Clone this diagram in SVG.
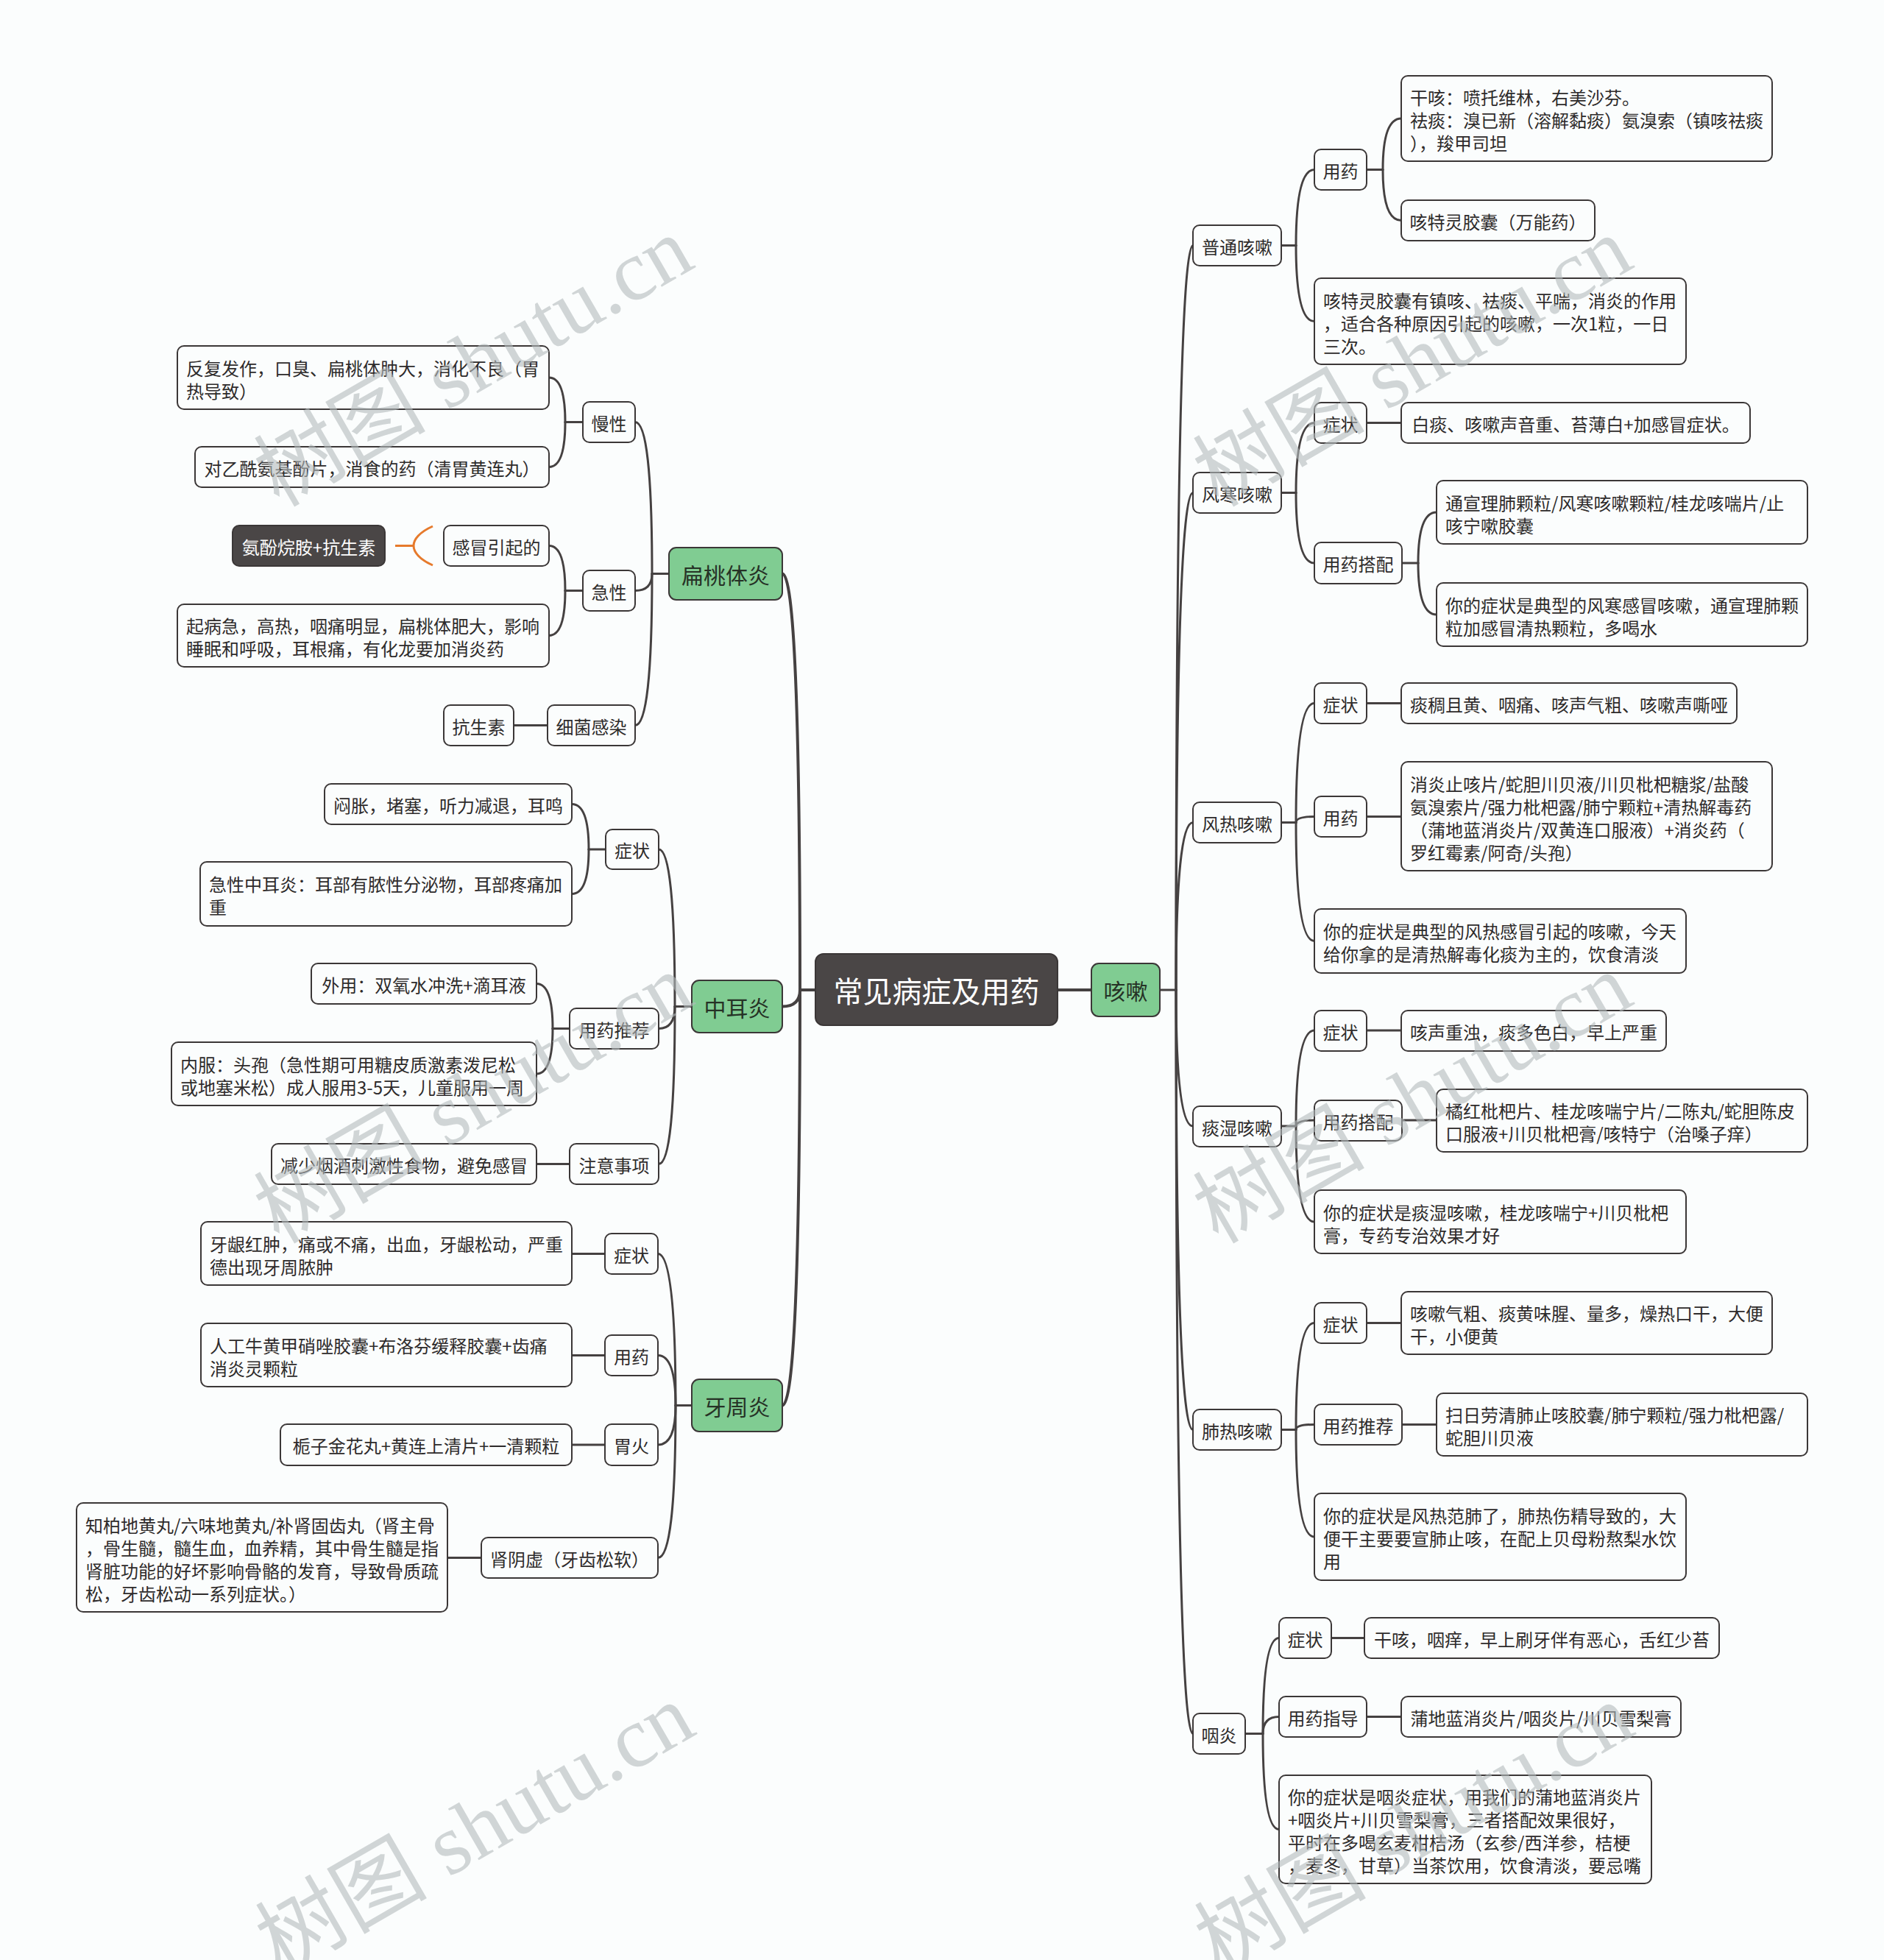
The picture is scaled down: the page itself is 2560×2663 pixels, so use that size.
<svg xmlns="http://www.w3.org/2000/svg" width="2560" height="2663" viewBox="0 0 2560 2663">
<style>
.bg{fill:#fbfdfd}
.n rect{fill:#fbfdfd;stroke:#3b3737;stroke-width:2}
.g rect{fill:#80cc92;stroke:#3b3737;stroke-width:2}
.r rect{fill:#4a4646;stroke:#3b3737;stroke-width:2}
text{font-family:"Noto Sans CJK SC","Noto Sans",sans-serif;font-size:24px;fill:#2e2b2b}
.m{text-anchor:middle;dominant-baseline:central}
.s{text-anchor:start;dominant-baseline:central}
.g text{font-size:30px;fill:#263226}
.r text{font-size:40px;fill:#ffffff}
.w text{fill:#ffffff}
.c path{fill:none;stroke:#454141;stroke-width:3;stroke-linecap:round}
.c .k{stroke-width:4}
.o path{fill:none;stroke:#e67a2c;stroke-width:3}
.wm text{font-family:"Liberation Serif","Noto Sans CJK SC",serif;font-size:117px;fill:#b4babd;fill-opacity:0.6}
</style>
<rect class="bg" x="0" y="0" width="2560" height="2663"/>

<g id="connectors" class="c">
<path class="k" d="M1437 1345 H1483"/>
<path class="k" d="M1108 1345 H1087"/>
<path class="k" d="M1087 1345 Q1087 779.5 1063 779.5"/>
<path class="k" d="M1087 1345 Q1087 1367.5 1063 1367.5"/>
<path class="k" d="M1087 1345 Q1087 1909.5 1063 1909.5"/>
<path d="M1576 1345 H1598"/>
<path d="M1598 1345 Q1598 333.5 1621 333.5"/>
<path d="M1598 1345 Q1598 669.5 1621 669.5"/>
<path d="M1598 1345 Q1598 1117.5 1621 1117.5"/>
<path d="M1598 1345 Q1598 1530 1621 1530"/>
<path d="M1598 1345 Q1598 1942.5 1621 1942.5"/>
<path d="M1598 1345 Q1598 2355.5 1621 2355.5"/>
<path d="M1741 333.5 H1761"/>
<path d="M1761 333.5 Q1761 230.5 1786 230.5"/>
<path d="M1761 333.5 Q1761 436.5 1786 436.5"/>
<path d="M1857 230.5 H1879"/>
<path d="M1879 230.5 Q1879 161 1904 161"/>
<path d="M1879 230.5 Q1879 299.5 1904 299.5"/>
<path d="M1741 669.5 H1761"/>
<path d="M1761 669.5 Q1761 574.5 1786 574.5"/>
<path d="M1761 669.5 Q1761 765 1786 765"/>
<path d="M1857 574.5 H1904"/>
<path d="M1905 765 H1927"/>
<path d="M1927 765 Q1927 696 1952 696"/>
<path d="M1927 765 Q1927 835 1952 835"/>
<path d="M1741 1117.5 H1761"/>
<path d="M1761 1117.5 Q1761 955.5 1786 955.5"/>
<path d="M1761 1117.5 Q1761 1109.5 1786 1109.5"/>
<path d="M1761 1117.5 Q1761 1278.5 1786 1278.5"/>
<path d="M1857 955.5 H1904"/>
<path d="M1857 1109.5 H1904"/>
<path d="M1741 1530 H1761"/>
<path d="M1761 1530 Q1761 1400 1786 1400"/>
<path d="M1761 1530 Q1761 1522 1786 1522"/>
<path d="M1761 1530 Q1761 1660 1786 1660"/>
<path d="M1857 1400 H1904"/>
<path d="M1905 1522 H1952"/>
<path d="M1741 1942.5 H1761"/>
<path d="M1761 1942.5 Q1761 1797.5 1786 1797.5"/>
<path d="M1761 1942.5 Q1761 1935.5 1786 1935.5"/>
<path d="M1761 1942.5 Q1761 2088 1786 2088"/>
<path d="M1857 1797.5 H1904"/>
<path d="M1905 1935.5 H1952"/>
<path d="M1692 2355.5 H1716"/>
<path d="M1716 2355.5 Q1716 2225.5 1738 2225.5"/>
<path d="M1716 2355.5 Q1716 2332.5 1738 2332.5"/>
<path d="M1716 2355.5 Q1716 2485.5 1738 2485.5"/>
<path d="M1809 2225.5 H1854"/>
<path d="M1857 2332.5 H1904"/>
<path d="M909 779.5 H886"/>
<path d="M886 779.5 Q886 573.5 863 573.5"/>
<path d="M886 779.5 Q886 802.5 863 802.5"/>
<path d="M886 779.5 Q886 985.5 863 985.5"/>
<path d="M792 573.5 H768"/>
<path d="M768 573.5 Q768 513 746 513"/>
<path d="M768 573.5 Q768 634.5 746 634.5"/>
<path d="M792 802.5 H768"/>
<path d="M768 802.5 Q768 741.5 746 741.5"/>
<path d="M768 802.5 Q768 863.5 746 863.5"/>
<path d="M744 985.5 H698"/>
<path d="M940 1367.5 H917"/>
<path d="M917 1367.5 Q917 1154 895 1154"/>
<path d="M917 1367.5 Q917 1397.5 895 1397.5"/>
<path d="M917 1367.5 Q917 1581.5 895 1581.5"/>
<path d="M823 1154 H800"/>
<path d="M800 1154 Q800 1092.5 777 1092.5"/>
<path d="M800 1154 Q800 1214.5 777 1214.5"/>
<path d="M774 1397.5 H751"/>
<path d="M751 1397.5 Q751 1336.5 729 1336.5"/>
<path d="M751 1397.5 Q751 1459 729 1459"/>
<path d="M774 1581.5 H729"/>
<path d="M940 1909.5 H918"/>
<path d="M918 1909.5 Q918 1703.5 894 1703.5"/>
<path d="M918 1909.5 Q918 1841.5 894 1841.5"/>
<path d="M918 1909.5 Q918 1963 894 1963"/>
<path d="M918 1909.5 Q918 2116.5 894 2116.5"/>
<path d="M822 1703.5 H777"/>
<path d="M822 1841.5 H777"/>
<path d="M822 1963 H777"/>
<path d="M654 2116.5 H608"/>
</g>
<g id="summary-bracket" class="o">
<path d="M537 741.5 H562"/>
<path d="M588 715 C570 723 562 733 562 741.5 C562 750 570 760 588 768"/>
</g>

<g id="root" class="r"><rect x="1108" y="1296" width="329" height="97" rx="11"/><text class="m" x="1272.5" y="1345">常见病症及用药</text></g>

<g id="kesou" class="g"><rect x="1483" y="1309" width="93" height="72" rx="10"/><text class="m" x="1529.5" y="1345">咳嗽</text></g>

<g id="putong" class="n"><rect x="1621" y="306" width="120" height="55" rx="9"/><text class="m" x="1681" y="334">普通咳嗽</text></g>
<g id="putong-yongyao" class="n"><rect x="1786" y="203" width="71" height="55" rx="9"/><text class="m" x="1821.5" y="231">用药</text></g>
<g id="putong-yao1" class="n"><rect x="1904" y="103" width="504" height="116" rx="9"/><text class="s"><tspan x="1916" y="131">干咳：喷托维林，右美沙芬。</tspan><tspan x="1916" y="162">祛痰：溴已新（溶解黏痰）氨溴索（镇咳祛痰</tspan><tspan x="1916" y="193">），羧甲司坦</tspan></text></g>
<g id="putong-yao2" class="n"><rect x="1904" y="272" width="263" height="55" rx="9"/><text class="m" x="2035.5" y="300">咳特灵胶囊（万能药）</text></g>
<g id="putong-note" class="n"><rect x="1786" y="378" width="505" height="117" rx="9"/><text class="s"><tspan x="1798" y="406.5">咳特灵胶囊有镇咳、祛痰、平喘，消炎的作用</tspan><tspan x="1798" y="437.5">，适合各种原因引起的咳嗽，一次1粒，一日</tspan><tspan x="1798" y="468.5">三次。</tspan></text></g>

<g id="fenghan" class="n"><rect x="1621" y="642" width="120" height="55" rx="9"/><text class="m" x="1681" y="670">风寒咳嗽</text></g>
<g id="fenghan-zz" class="n"><rect x="1786" y="547" width="71" height="55" rx="9"/><text class="m" x="1821.5" y="575">症状</text></g>
<g id="fenghan-zz-t" class="n"><rect x="1904" y="547" width="474" height="55" rx="9"/><text class="m" x="2141" y="575">白痰、咳嗽声音重、苔薄白+加感冒症状。</text></g>
<g id="fenghan-yy" class="n"><rect x="1786" y="737" width="119" height="56" rx="9"/><text class="m" x="1845.5" y="765.5">用药搭配</text></g>
<g id="fenghan-yy1" class="n"><rect x="1952" y="653" width="504" height="86" rx="9"/><text class="s"><tspan x="1964" y="681.5">通宣理肺颗粒/风寒咳嗽颗粒/桂龙咳喘片/止</tspan><tspan x="1964" y="712.5">咳宁嗽胶囊</tspan></text></g>
<g id="fenghan-yy2" class="n"><rect x="1952" y="792" width="504" height="86" rx="9"/><text class="s"><tspan x="1964" y="820.5">你的症状是典型的风寒感冒咳嗽，通宣理肺颗</tspan><tspan x="1964" y="851.5">粒加感冒清热颗粒，多喝水</tspan></text></g>

<g id="fengre" class="n"><rect x="1621" y="1090" width="120" height="55" rx="9"/><text class="m" x="1681" y="1118">风热咳嗽</text></g>
<g id="fengre-zz" class="n"><rect x="1786" y="928" width="71" height="55" rx="9"/><text class="m" x="1821.5" y="956">症状</text></g>
<g id="fengre-zz-t" class="n"><rect x="1904" y="928" width="456" height="55" rx="9"/><text class="m" x="2132" y="956">痰稠且黄、咽痛、咳声气粗、咳嗽声嘶哑</text></g>
<g id="fengre-yy" class="n"><rect x="1786" y="1082" width="71" height="55" rx="9"/><text class="m" x="1821.5" y="1110">用药</text></g>
<g id="fengre-yy-t" class="n"><rect x="1904" y="1035" width="504" height="148" rx="9"/><text class="s"><tspan x="1916" y="1063.5">消炎止咳片/蛇胆川贝液/川贝枇杷糖浆/盐酸</tspan><tspan x="1916" y="1094.5">氨溴索片/强力枇杷露/肺宁颗粒+清热解毒药</tspan><tspan x="1916" y="1125.5">（蒲地蓝消炎片/双黄连口服液）+消炎药（</tspan><tspan x="1916" y="1156.5">罗红霉素/阿奇/头孢）</tspan></text></g>
<g id="fengre-note" class="n"><rect x="1786" y="1235" width="505" height="87" rx="9"/><text class="s"><tspan x="1798" y="1264">你的症状是典型的风热感冒引起的咳嗽，今天</tspan><tspan x="1798" y="1295">给你拿的是清热解毒化痰为主的，饮食清淡</tspan></text></g>

<g id="tanshi" class="n"><rect x="1621" y="1503" width="120" height="55" rx="9"/><text class="m" x="1681" y="1531">痰湿咳嗽</text></g>
<g id="tanshi-zz" class="n"><rect x="1786" y="1373" width="71" height="55" rx="9"/><text class="m" x="1821.5" y="1401">症状</text></g>
<g id="tanshi-zz-t" class="n"><rect x="1904" y="1373" width="360" height="55" rx="9"/><text class="m" x="2084" y="1401">咳声重浊，痰多色白，早上严重</text></g>
<g id="tanshi-yy" class="n"><rect x="1786" y="1495" width="119" height="55" rx="9"/><text class="m" x="1845.5" y="1523">用药搭配</text></g>
<g id="tanshi-yy-t" class="n"><rect x="1952" y="1480" width="504" height="85" rx="9"/><text class="s"><tspan x="1964" y="1508">橘红枇杷片、桂龙咳喘宁片/二陈丸/蛇胆陈皮</tspan><tspan x="1964" y="1539">口服液+川贝枇杷膏/咳特宁（治嗓子痒）</tspan></text></g>
<g id="tanshi-note" class="n"><rect x="1786" y="1617" width="505" height="86" rx="9"/><text class="s"><tspan x="1798" y="1645.5">你的症状是痰湿咳嗽，桂龙咳喘宁+川贝枇杷</tspan><tspan x="1798" y="1676.5">膏，专药专治效果才好</tspan></text></g>

<g id="feire" class="n"><rect x="1621" y="1915" width="120" height="55" rx="9"/><text class="m" x="1681" y="1943">肺热咳嗽</text></g>
<g id="feire-zz" class="n"><rect x="1786" y="1770" width="71" height="55" rx="9"/><text class="m" x="1821.5" y="1798">症状</text></g>
<g id="feire-zz-t" class="n"><rect x="1904" y="1755" width="504" height="85" rx="9"/><text class="s"><tspan x="1916" y="1783">咳嗽气粗、痰黄味腥、量多，燥热口干，大便</tspan><tspan x="1916" y="1814">干，小便黄</tspan></text></g>
<g id="feire-yy" class="n"><rect x="1786" y="1908" width="119" height="55" rx="9"/><text class="m" x="1845.5" y="1936">用药推荐</text></g>
<g id="feire-yy-t" class="n"><rect x="1952" y="1893" width="504" height="85" rx="9"/><text class="s"><tspan x="1964" y="1921">扫日劳清肺止咳胶囊/肺宁颗粒/强力枇杷露/</tspan><tspan x="1964" y="1952">蛇胆川贝液</tspan></text></g>
<g id="feire-note" class="n"><rect x="1786" y="2029" width="505" height="118" rx="9"/><text class="s"><tspan x="1798" y="2058">你的症状是风热范肺了，肺热伤精导致的，大</tspan><tspan x="1798" y="2089">便干主要要宣肺止咳，在配上贝母粉熬梨水饮</tspan><tspan x="1798" y="2120">用</tspan></text></g>

<g id="yanyan" class="n"><rect x="1621" y="2328" width="71" height="55" rx="9"/><text class="m" x="1656.5" y="2356">咽炎</text></g>
<g id="yanyan-zz" class="n"><rect x="1738" y="2198" width="71" height="55" rx="9"/><text class="m" x="1773.5" y="2226">症状</text></g>
<g id="yanyan-zz-t" class="n"><rect x="1854" y="2198" width="482" height="55" rx="9"/><text class="m" x="2095" y="2226">干咳，咽痒，早上刷牙伴有恶心，舌红少苔</text></g>
<g id="yanyan-yy" class="n"><rect x="1738" y="2305" width="119" height="55" rx="9"/><text class="m" x="1797.5" y="2333">用药指导</text></g>
<g id="yanyan-yy-t" class="n"><rect x="1904" y="2305" width="380" height="55" rx="9"/><text class="m" x="2094" y="2333">蒲地蓝消炎片/咽炎片/川贝雪梨膏</text></g>
<g id="yanyan-note" class="n"><rect x="1738" y="2412" width="506" height="147" rx="9"/><text class="s"><tspan x="1750" y="2440">你的症状是咽炎症状，用我们的蒲地蓝消炎片</tspan><tspan x="1750" y="2471">+咽炎片+川贝雪梨膏，三者搭配效果很好，</tspan><tspan x="1750" y="2502">平时在多喝玄麦柑桔汤（玄参/西洋参，桔梗</tspan><tspan x="1750" y="2533">，麦冬，甘草）当茶饮用，饮食清淡，要忌嘴</tspan></text></g>

<g id="biantaoti" class="g"><rect x="909" y="744" width="154" height="71" rx="10"/><text class="m" x="986" y="780">扁桃体炎</text></g>
<g id="bt-manxing" class="n"><rect x="792" y="546" width="71" height="55" rx="9"/><text class="m" x="827.5" y="574">慢性</text></g>
<g id="bt-manxing-1" class="n"><rect x="241" y="470" width="505" height="86" rx="9"/><text class="s"><tspan x="253" y="498.5">反复发作，口臭、扁桃体肿大，消化不良（胃</tspan><tspan x="253" y="529.5">热导致）</tspan></text></g>
<g id="bt-manxing-2" class="n"><rect x="265" y="607" width="481" height="55" rx="9"/><text class="m" x="505.5" y="635">对乙酰氨基酚片，消食的药（清胃黄连丸）</text></g>
<g id="bt-jixing" class="n"><rect x="792" y="775" width="71" height="55" rx="9"/><text class="m" x="827.5" y="803">急性</text></g>
<g id="bt-ganmao" class="n"><rect x="603" y="714" width="143" height="55" rx="9"/><text class="m" x="674.5" y="742">感冒引起的</text></g>
<g id="bt-ganmao-yao" class="r w"><rect x="316" y="714" width="207" height="55" rx="9"/><text class="m" x="419.5" y="742" style="font-size:24px">氨酚烷胺+抗生素</text></g>
<g id="bt-jixing-2" class="n"><rect x="241" y="821" width="505" height="85" rx="9"/><text class="s"><tspan x="253" y="849">起病急，高热，咽痛明显，扁桃体肥大，影响</tspan><tspan x="253" y="880">睡眠和呼吸，耳根痛，有化龙要加消炎药</tspan></text></g>
<g id="bt-xijun" class="n"><rect x="744" y="958" width="119" height="55" rx="9"/><text class="m" x="803.5" y="986">细菌感染</text></g>
<g id="bt-kangshengsu" class="n"><rect x="603" y="958" width="95" height="55" rx="9"/><text class="m" x="650.5" y="986">抗生素</text></g>

<g id="zhongeryan" class="g"><rect x="940" y="1332" width="123" height="71" rx="10"/><text class="m" x="1001.5" y="1368">中耳炎</text></g>
<g id="ze-zz" class="n"><rect x="823" y="1127" width="72" height="54" rx="9"/><text class="m" x="859" y="1154.5">症状</text></g>
<g id="ze-zz-1" class="n"><rect x="441" y="1065" width="336" height="55" rx="9"/><text class="m" x="609" y="1093">闷胀，堵塞，听力减退，耳鸣</text></g>
<g id="ze-zz-2" class="n"><rect x="272" y="1171" width="505" height="87" rx="9"/><text class="s"><tspan x="284" y="1200">急性中耳炎：耳部有脓性分泌物，耳部疼痛加</tspan><tspan x="284" y="1231">重</tspan></text></g>
<g id="ze-yy" class="n"><rect x="774" y="1370" width="121" height="55" rx="9"/><text class="m" x="834.5" y="1398">用药推荐</text></g>
<g id="ze-yy-1" class="n"><rect x="423" y="1309" width="306" height="55" rx="9"/><text class="m" x="576" y="1337">外用：双氧水冲洗+滴耳液</text></g>
<g id="ze-yy-2" class="n"><rect x="233" y="1416" width="496" height="86" rx="9"/><text class="s"><tspan x="245" y="1444.5">内服：头孢（急性期可用糖皮质激素泼尼松</tspan><tspan x="245" y="1475.5">或地塞米松）成人服用3-5天，儿童服用一周</tspan></text></g>
<g id="ze-zy" class="n"><rect x="774" y="1554" width="121" height="55" rx="9"/><text class="m" x="834.5" y="1582">注意事项</text></g>
<g id="ze-zy-1" class="n"><rect x="369" y="1554" width="360" height="55" rx="9"/><text class="m" x="549" y="1582">减少烟酒刺激性食物，避免感冒</text></g>

<g id="yazhouyan" class="g"><rect x="940" y="1874" width="123" height="71" rx="10"/><text class="m" x="1001.5" y="1910">牙周炎</text></g>
<g id="yz-zz" class="n"><rect x="822" y="1676" width="72" height="55" rx="9"/><text class="m" x="858" y="1704">症状</text></g>
<g id="yz-zz-1" class="n"><rect x="273" y="1660" width="504" height="86" rx="9"/><text class="s"><tspan x="285" y="1688.5">牙龈红肿，痛或不痛，出血，牙龈松动，严重</tspan><tspan x="285" y="1719.5">德出现牙周脓肿</tspan></text></g>
<g id="yz-yy" class="n"><rect x="822" y="1814" width="72" height="55" rx="9"/><text class="m" x="858" y="1842">用药</text></g>
<g id="yz-yy-1" class="n"><rect x="273" y="1798" width="504" height="86" rx="9"/><text class="s"><tspan x="285" y="1826.5">人工牛黄甲硝唑胶囊+布洛芬缓释胶囊+齿痛</tspan><tspan x="285" y="1857.5">消炎灵颗粒</tspan></text></g>
<g id="yz-wh" class="n"><rect x="822" y="1935" width="72" height="56" rx="9"/><text class="m" x="858" y="1963.5">胃火</text></g>
<g id="yz-wh-1" class="n"><rect x="381" y="1935" width="396" height="56" rx="9"/><text class="m" x="579" y="1963.5">栀子金花丸+黄连上清片+一清颗粒</text></g>
<g id="yz-sy" class="n"><rect x="654" y="2089" width="240" height="55" rx="9"/><text class="m" x="774" y="2117">肾阴虚（牙齿松软）</text></g>
<g id="yz-sy-1" class="n"><rect x="104" y="2042" width="504" height="148" rx="9"/><text class="s"><tspan x="116" y="2070.5">知柏地黄丸/六味地黄丸/补肾固齿丸（肾主骨</tspan><tspan x="116" y="2101.5">，骨生髓，髓生血，血养精，其中骨生髓是指</tspan><tspan x="116" y="2132.5">肾脏功能的好坏影响骨骼的发育，导致骨质疏</tspan><tspan x="116" y="2163.5">松，牙齿松动一系列症状。）</tspan></text></g>

<g id="watermarks" class="wm">
<text x="379" y="690" transform="rotate(-30 379 690)">树图 shutu.cn</text>
<text x="379" y="1691" transform="rotate(-30 379 1691)">树图 shutu.cn</text>
<text x="381" y="2683" transform="rotate(-30 381 2683)">树图 shutu.cn</text>
<text x="1655" y="690" transform="rotate(-30 1655 690)">树图 shutu.cn</text>
<text x="1655" y="1691" transform="rotate(-30 1655 1691)">树图 shutu.cn</text>
<text x="1657" y="2683" transform="rotate(-30 1657 2683)">树图 shutu.cn</text>
</g>
</svg>
